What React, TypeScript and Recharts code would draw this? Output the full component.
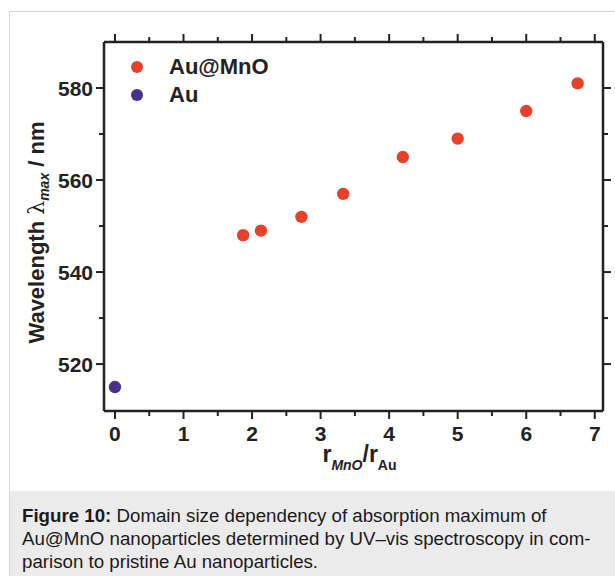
import React from "react";
import { ScatterChart, Scatter, XAxis, YAxis, Legend } from "recharts";

// r_MnO / r_Au ratio vs. absorption maximum (nm)
const auMnoRatio = [1.87, 2.13, 2.72, 3.33, 4.2, 5.0, 6.0, 6.75];
const auMnoWavelength = [548, 549, 552, 557, 565, 569, 575, 581];
const auRatio = [0];
const auWavelength = [515];

const seriesNames = ["Au@MnO", "Au"];
const seriesColors = ["#e5412b", "#4a2e8d"];

const xTicks = [0, 0.5, 1, 1.5, 2, 2.5, 3, 3.5, 4, 4.5, 5, 5.5, 6, 6.5, 7];
const yTicks = [520, 530, 540, 550, 560, 570, 580];

const captionLines = [
  "Domain size dependency of absorption maximum of",
  "Au@MnO nanoparticles determined by UV–vis spectroscopy in com-",
  "parison to pristine Au nanoparticles.",
];

const auMnoData = auMnoRatio.map((r, i) => ({ ratio: r, wavelength: auMnoWavelength[i] }));
const auData = auRatio.map((r, i) => ({ ratio: r, wavelength: auWavelength[i] }));

const INK = "#222";
const FONT = "'Liberation Sans', Arial, sans-serif";

const isMajorX = (v: number) => Number.isInteger(v);
const isMajorY = (v: number) => v % 20 === 0;

function BottomTick(props: any) {
  const { x, y, payload } = props;
  const major = isMajorX(payload.value);
  return (
    <g>
      <line x1={x} y1={y} x2={x} y2={y + (major ? 8 : 5)} stroke={INK} strokeWidth={2} />
      {major && (
        <text x={x} y={y + 30} textAnchor="middle" fontFamily={FONT} fontWeight="bold" fontSize={21} fill={INK}>
          {payload.value}
        </text>
      )}
    </g>
  );
}

function TopTick(props: any) {
  const { x, y, payload } = props;
  const major = isMajorX(payload.value);
  return <line x1={x} y1={y} x2={x} y2={y - (major ? 8 : 5)} stroke={INK} strokeWidth={2} />;
}

function LeftTick(props: any) {
  const { x, y, payload } = props;
  const major = isMajorY(payload.value);
  return (
    <g>
      <line x1={x} y1={y} x2={x - (major ? 8 : 5)} y2={y} stroke={INK} strokeWidth={2} />
      {major && (
        <text x={x - 11} y={y} dy="0.36em" textAnchor="end" fontFamily={FONT} fontWeight="bold" fontSize={21} fill={INK}>
          {payload.value}
        </text>
      )}
    </g>
  );
}

function RightTick(props: any) {
  const { x, y, payload } = props;
  const major = isMajorY(payload.value);
  return <line x1={x} y1={y} x2={x + (major ? 8 : 5)} y2={y} stroke={INK} strokeWidth={2} />;
}

function YTitle(props: any) {
  const vb = props.viewBox || { x: 0, y: 42, width: 104, height: 369 };
  const cx = vb.x + 36;
  const cy = vb.y + vb.height / 2 + 6;
  return (
    <text
      x={cx}
      y={cy}
      transform={`rotate(-90 ${cx} ${cy})`}
      textAnchor="middle"
      fontFamily={FONT}
      fontWeight="bold"
      fontSize={22}
      fill={INK}
      dy="0.35em"
    >
      Wavelength{" "}
      <tspan fontFamily="'DejaVu Serif', serif" fontWeight="normal">λ</tspan>
      <tspan fontStyle="italic" fontSize={14} dy={5}>max</tspan>
      <tspan dy={-5}> / nm</tspan>
    </text>
  );
}

function XTitle(props: any) {
  const vb = props.viewBox || { x: 104, y: 411, width: 499, height: 79 };
  const cx = vb.x + vb.width / 2 + 6;
  const by = vb.y + 51;
  return (
    <text x={cx} y={by} textAnchor="middle" fontFamily={FONT} fontWeight="bold" fontSize={23} fill={INK}>
      r
      <tspan fontStyle="italic" fontSize={14} dy={8}>MnO</tspan>
      <tspan dy={-8}>/r</tspan>
      <tspan fontSize={14} dy={8}>Au</tspan>
    </text>
  );
}

function LegendContent(props: any) {
  const items = [...(props.payload || [])].sort(
    (a: any, b: any) => seriesNames.indexOf(a.value) - seriesNames.indexOf(b.value)
  );
  return (
    <div style={{ fontFamily: FONT, width: 200 }}>
      {items.map((entry: any) => (
        <div key={entry.value} style={{ display: "flex", alignItems: "center", height: 28, whiteSpace: "nowrap" }}>
          <span
            style={{
              display: "inline-block",
              flexShrink: 0,
              width: 12,
              height: 12,
              borderRadius: "50%",
              background: seriesColors[seriesNames.indexOf(entry.value)] || entry.color,
              marginRight: 26,
            }}
          />
          <span style={{ fontWeight: "bold", fontSize: 22, color: INK }}>{entry.value}</span>
        </div>
      ))}
    </div>
  );
}

const dotShape = (color: string) => (props: any) =>
  <circle cx={props.cx} cy={props.cy} r={6.2} fill={color} />;

export default function App() {
  return (
    <div
      style={{
        position: "absolute",
        left: 0,
        top: 0,
        width: 615,
        height: 576,
        background: "#fff",
        overflow: "hidden",
      }}
    >
      {/* page frame */}
      <div
        style={{
          position: "absolute",
          left: 9,
          top: 11,
          width: 620,
          height: 580,
          borderLeft: "1.5px solid #d6d6d6",
          borderTop: "1.5px solid #d6d6d6",
        }}
      />
      <div style={{ position: "absolute", left: 0, top: 0 }}>
        <ScatterChart width={615} height={490} margin={{ top: 0, right: 0, bottom: 0, left: 0 }}>
          <XAxis
            type="number"
            dataKey="ratio"
            domain={[-0.16, 7.12]}
            ticks={xTicks}
            interval={0}
            allowDataOverflow
            height={79}
            tickSize={0}
            tickMargin={0}
            tickLine={false}
            axisLine={{ stroke: INK, strokeWidth: 2.5 }}
            tick={(p: any) => <BottomTick {...p} />}
            label={<XTitle />}
          />
          <XAxis
            xAxisId="top"
            orientation="top"
            type="number"
            dataKey="ratio"
            domain={[-0.16, 7.12]}
            ticks={xTicks}
            interval={0}
            allowDataOverflow
            height={42}
            tickSize={0}
            tickMargin={0}
            tickLine={false}
            axisLine={{ stroke: INK, strokeWidth: 2.5 }}
            tick={(p: any) => <TopTick {...p} />}
          />
          <YAxis
            type="number"
            dataKey="wavelength"
            domain={[509.8, 590]}
            ticks={yTicks}
            interval={0}
            allowDataOverflow
            width={104}
            tickSize={0}
            tickMargin={0}
            tickLine={false}
            axisLine={{ stroke: INK, strokeWidth: 2.5 }}
            tick={(p: any) => <LeftTick {...p} />}
            label={<YTitle />}
          />
          <YAxis
            yAxisId="right"
            orientation="right"
            type="number"
            dataKey="wavelength"
            domain={[509.8, 590]}
            ticks={yTicks}
            interval={0}
            allowDataOverflow
            width={12}
            tickSize={0}
            tickMargin={0}
            tickLine={false}
            axisLine={{ stroke: INK, strokeWidth: 2.5 }}
            tick={(p: any) => <RightTick {...p} />}
          />
          <Legend
            content={<LegendContent />}
            wrapperStyle={{ position: "absolute", left: 131, top: 53, width: 0, height: 0, overflow: "visible" }}
          />
          <Scatter
            name={seriesNames[0]}
            data={auMnoData}
            fill={seriesColors[0]}
            shape={dotShape(seriesColors[0])}
            isAnimationActive={false}
          />
          <Scatter
            name={seriesNames[1]}
            data={auData}
            fill={seriesColors[1]}
            shape={dotShape(seriesColors[1])}
            isAnimationActive={false}
          />
        </ScatterChart>
      </div>
      {/* caption */}
      <div
        style={{
          position: "absolute",
          left: 10,
          top: 491,
          width: 605,
          height: 85,
          boxSizing: "border-box",
          background: "#ebebeb",
          padding: "13px 0 0 12px",
          fontFamily: FONT,
          fontSize: 18.7,
          lineHeight: "23px",
          color: "#1a1a1a",
          whiteSpace: "nowrap",
        }}
      >
        <b>Figure 10:</b> {captionLines[0]}
        <br />
        {captionLines[1]}
        <br />
        {captionLines[2]}
      </div>
    </div>
  );
}
